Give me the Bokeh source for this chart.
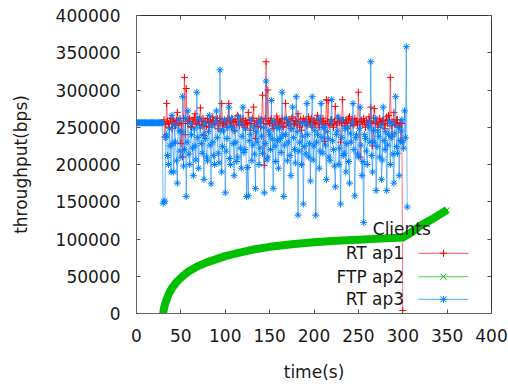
from bokeh.plotting import figure
from bokeh.models import Range1d, FixedTicker, LinearAxis, BasicTickFormatter, Label, Arrow
from bokeh.embed import file_html
from bokeh.resources import INLINE

# ---------------- data ----------------
x_ticks = [0, 50, 100, 150, 200, 250, 300, 350, 400]
y_ticks = [0, 50000, 100000, 150000, 200000, 250000, 300000, 350000, 400000]

series_names = ["RT ap1", "FTP ap2", "RT ap3"]
legend_title = "Clients"

# RT ap1 (red, +), one sample per second, t = 30 .. 300
ap1_time = list(range(30, 301))
ap1_vals = [
    256000, 260000, 237000, 254000, 282000, 258000, 255000, 250000, 262000, 257000,
    248000, 261000, 258000, 254000, 252000, 259000, 270000, 253000, 256000, 262000,
    228000, 255000, 210000, 262000, 317000, 240000, 302000, 258000, 255000, 260000,
    262000, 251000, 250000, 257000, 258000, 263000, 268000, 255000, 254000, 260000,
    260000, 253000, 276000, 258000, 252000, 262000, 239000, 256000, 258000, 251000,
    262000, 257000, 250000, 260000, 256000, 254000, 264000, 259000, 253000, 258000,
    259000, 262000, 248000, 255000, 262000, 257000, 282000, 252000, 255000, 260000,
    258000, 254000, 250000, 262000, 282000, 259000, 256000, 251000, 261000, 257000,
    245000, 260000, 258000, 253000, 266000, 257000, 252000, 261000, 257000, 254000,
    262000, 256000, 250000, 259000, 256000, 253000, 270000, 260000, 246000, 255000,
    259000, 262000, 277000, 253000, 235000, 258000, 256000, 251000, 262000, 257000,
    250000, 260000, 293000, 255000, 199000, 262000, 338000, 254000, 300000, 258000,
    255000, 259000, 262000, 252000, 248000, 257000, 258000, 254000, 265000, 260000,
    252000, 258000, 258000, 255000, 262000, 251000, 250000, 260000, 282000, 256000,
    256000, 253000, 260000, 258000, 248000, 262000, 264000, 255000, 254000, 259000,
    258000, 252000, 268000, 257000, 250000, 261000, 246000, 255000, 262000, 258000,
    256000, 260000, 252000, 254000, 264000, 257000, 258000, 262000, 250000, 256000,
    260000, 253000, 255000, 259000, 266000, 256000, 250000, 261000, 258000, 254000,
    262000, 257000, 231000, 255000, 287000, 258000, 286000, 252000, 254000, 260000,
    260000, 255000, 250000, 258000, 278000, 253000, 256000, 262000, 262000, 257000,
    230000, 256000, 287000, 259000, 255000, 252000, 260000, 257000, 248000, 262000,
    264000, 255000, 256000, 260000, 252000, 254000, 262000, 258000, 258000, 253000,
    297000, 256000, 210000, 260000, 258000, 254000, 262000, 257000, 250000, 259000,
    256000, 252000, 264000, 258000, 277000, 255000, 225000, 262000, 275000, 256000,
    256000, 260000, 250000, 254000, 262000, 257000, 254000, 259000, 260000, 253000,
    248000, 258000, 264000, 255000, 266000, 260000, 317000, 252000, 238000, 257000,
    270000, 254000, 255000, 260000, 260000, 252000, 250000, 256000, 232000, 255000,
    4000,
]

# FTP ap2 (green, x)
ap2_time = [30, 31, 32, 34, 36, 38, 40, 45, 50, 55, 60, 70, 80, 90, 100, 115, 130,
            150, 175, 200, 225, 250, 275, 300, 310, 320, 335, 350]
ap2_vals = [0, 7000, 12000, 19000, 25000, 30000, 34000, 42000, 48000, 53000, 57500,
            64000, 69000, 73000, 77000, 81500, 85500, 89500, 93000, 95500, 97500,
            99000, 100500, 102000, 109000, 118000, 128000, 139000]

# RT ap3 (blue, *): one sample per second, t = 0 .. 305
ap3_time = list(range(0, 306))
ap3_vals = [
    256000, 256000, 256000, 256000, 256000, 256000, 256000, 256000, 256000, 256000,
    256000, 256000, 256000, 256000, 256000, 256000, 256000, 256000, 256000, 256000,
    256000, 256000, 256000, 256000, 256000, 256000, 256000, 256000, 256000, 256000,
    148000, 150000, 151000, 236000, 240000, 212000, 200000, 248000, 225000, 190000,
    266000, 228000, 190000, 252000, 230000, 205000, 175000, 260000, 245000, 218000,
    210000, 244000, 291000, 198000, 220000, 262000, 157000, 230000, 272000, 214000,
    200000, 255000, 240000, 222000, 185000, 248000, 225000, 206000, 297000, 236000,
    195000, 262000, 250000, 228000, 215000, 240000, 180000, 256000, 235000, 210000,
    205000, 244000, 266000, 226000, 174000, 252000, 230000, 212000, 200000, 258000,
    272000, 236000, 215000, 202000, 327000, 246000, 190000, 224000, 245000, 260000,
    162000, 218000, 235000, 250000, 277000, 208000, 200000, 262000, 250000, 228000,
    185000, 246000, 230000, 204000, 210000, 264000, 255000, 222000, 195000, 238000,
    277000, 216000, 220000, 248000, 157000, 196000, 158000, 232000, 240000, 260000,
    205000, 226000, 250000, 214000, 168000, 244000, 230000, 256000, 200000, 222000,
    260000, 238000, 215000, 250000, 162000, 228000, 312000, 206000, 210000, 246000,
    240000, 220000, 286000, 234000, 168000, 258000, 225000, 204000, 250000, 232000,
    195000, 248000, 235000, 216000, 297000, 240000, 157000, 226000, 240000, 262000,
    205000, 230000, 255000, 212000, 185000, 248000, 277000, 236000, 220000, 202000,
    291000, 244000, 132000, 218000, 230000, 256000, 200000, 238000, 147000, 224000,
    255000, 214000, 282000, 240000, 210000, 228000, 178000, 252000, 291000, 206000,
    225000, 246000, 132000, 230000, 240000, 262000, 195000, 218000, 282000, 236000,
    215000, 250000, 250000, 226000, 180000, 244000, 235000, 210000, 205000, 258000,
    287000, 232000, 220000, 198000, 170000, 240000, 245000, 264000, 200000, 222000,
    147000, 236000, 260000, 212000, 215000, 248000, 190000, 228000, 250000, 204000,
    175000, 242000, 230000, 256000, 282000, 220000, 158000, 236000, 240000, 214000,
    210000, 248000, 277000, 226000, 185000, 204000, 122000, 240000, 235000, 218000,
    200000, 256000, 250000, 230000, 338000, 212000, 190000, 246000, 230000, 262000,
    165000, 224000, 245000, 238000, 210000, 252000, 180000, 206000, 277000, 232000,
    220000, 244000, 165000, 226000, 240000, 258000, 200000, 236000, 255000, 214000,
    175000, 242000, 291000, 224000, 215000, 250000, 185000, 232000, 245000, 260000,
    230000, 222000, 272000, 236000, 358000, 143000,
]

# ---------------- style ----------------
FONT = "DejaVu Sans"
FS = "17px"
RED, GREEN, BLUE = "#ff0000", "#00c000", "#0080ff"
TXT = "#1a1a1a"

p = figure(width=508, height=387, output_backend="svg", toolbar_location=None,
           x_range=Range1d(0, 400), y_range=Range1d(0, 400000),
           min_border_left=136, min_border_right=17, min_border_top=15,
           min_border_bottom=74)
p.grid.visible = False
p.outline_line_color = "#333333"
p.background_fill_color = "white"
p.border_fill_color = "white"

p.xaxis.ticker = FixedTicker(ticks=x_ticks)
p.yaxis.ticker = FixedTicker(ticks=y_ticks)
p.yaxis.formatter = BasicTickFormatter(use_scientific=False)
for ax in (p.xaxis[0], p.yaxis[0]):
    ax.major_tick_in = 4
    ax.major_tick_out = 0
    ax.minor_tick_in = 0
    ax.minor_tick_out = 0
    ax.axis_line_color = "#666666"
    ax.major_tick_line_color = "#555555"
    ax.major_label_text_font = FONT
    ax.major_label_text_font_size = FS
    ax.major_label_text_color = TXT
    ax.axis_label_text_font = FONT
    ax.axis_label_text_font_size = FS
    ax.axis_label_text_font_style = "normal"
    ax.axis_label_text_color = TXT
p.xaxis.axis_label = "time(s)"
p.yaxis.axis_label = "throughput(bps)"
p.xaxis.major_label_standoff = 15
p.yaxis.major_label_standoff = 16
p.xaxis.axis_label_standoff = 17
p.yaxis.axis_label_standoff = 22

# mirrored ticks on top / right (no labels)
top = LinearAxis(ticker=FixedTicker(ticks=x_ticks),
                 major_label_overrides={t: "" for t in x_ticks},
                 major_label_standoff=0, major_tick_in=4, major_tick_out=0,
                 minor_tick_in=0, minor_tick_out=0, axis_line_color=None,
                 major_tick_line_color="#555555")
right = LinearAxis(ticker=FixedTicker(ticks=y_ticks),
                   major_label_overrides={t: "" for t in y_ticks},
                   major_label_standoff=0, major_tick_in=4, major_tick_out=0,
                   minor_tick_in=0, minor_tick_out=0, axis_line_color=None,
                   major_tick_line_color="#555555")
p.add_layout(top, "above")
p.add_layout(right, "right")

# ---------------- series ----------------
p.line(ap1_time, ap1_vals, line_color=RED, line_width=1, line_alpha=0.55)
p.scatter(ap1_time, ap1_vals, marker="cross", size=7, line_color=RED, line_width=1)

p.line(ap2_time, ap2_vals, line_color=GREEN, line_width=8, line_join="round")
p.scatter(ap2_time, ap2_vals, marker="x", size=7, line_color=GREEN, line_width=1)

p.line(ap3_time, ap3_vals, line_color=BLUE, line_width=1, line_alpha=0.55)
p.scatter(ap3_time, ap3_vals, marker="asterisk", size=7, line_color=BLUE, line_width=1)

# ---------------- legend (gnuplot style: label left, sample right) ----------------
def seg(x0, y0, x1, y1, color, alpha=1.0):
    p.add_layout(Arrow(start=None, end=None, x_start=x0, y_start=y0, x_end=x1, y_end=y1,
                       start_units="screen", end_units="screen",
                       line_color=color, line_width=1, line_alpha=alpha))

LBL_X = 267.6
SAMPLE_X0, SAMPLE_X1, MARK_X = 282.0, 332.0, 307.0
ROW_Y = [60.2, 36.8, 14.2]
COLORS = [RED, GREEN, BLUE]

p.add_layout(Label(x=265.3, y=84.2, x_units="screen", y_units="screen", text=legend_title,
                   text_align="center", text_baseline="middle", text_font=FONT,
                   text_font_size=FS, text_color=TXT))
for name, yy, col, kind in zip(series_names, ROW_Y, COLORS, ["plus", "x", "star"]):
    p.add_layout(Label(x=LBL_X, y=yy, x_units="screen", y_units="screen", text=name,
                       text_align="right", text_baseline="middle", text_font=FONT,
                       text_font_size=FS, text_color=TXT))
    seg(SAMPLE_X0, yy, SAMPLE_X1, yy, col, 0.7)
    if kind in ("plus", "star"):
        seg(MARK_X - 3.5, yy, MARK_X + 3.5, yy, col)
        seg(MARK_X, yy - 3.5, MARK_X, yy + 3.5, col)
    if kind in ("x", "star"):
        seg(MARK_X - 3, yy - 3, MARK_X + 3, yy + 3, col)
        seg(MARK_X - 3, yy + 3, MARK_X + 3, yy - 3, col)

open("out.html", "w").write(file_html(p, INLINE))
